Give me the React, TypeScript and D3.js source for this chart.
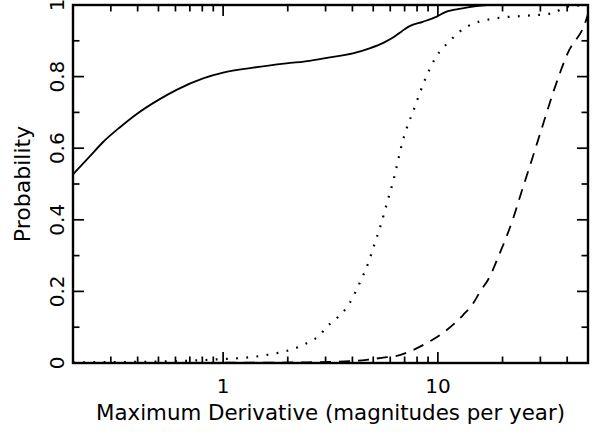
import React from "react";
import * as d3 from "d3";

const solidX = [0.2, 0.24, 0.277, 0.33, 0.395, 0.5, 0.607, 0.807, 1.0, 1.38, 1.97, 2.53, 3.14, 4.02, 4.81, 5.6, 6.18, 6.8, 7.39, 8.5, 9.83, 10.9, 12.8, 15.1, 17, 50];
const solidY = [0.527, 0.578, 0.618, 0.658, 0.695, 0.735, 0.763, 0.795, 0.811, 0.825, 0.837, 0.844, 0.854, 0.865, 0.879, 0.895, 0.909, 0.927, 0.941, 0.953, 0.967, 0.981, 0.99, 0.997, 1.0, 1.0];

const dottedX = [0.2, 0.5, 1.0, 1.28, 1.65, 2.04, 2.27, 2.53, 2.82, 3.03, 3.31, 3.88, 4.32, 4.73, 5.08, 5.45, 5.82, 6.18, 6.88, 7.79, 8.83, 9.83, 11.3, 13.6, 18.7, 25.8, 34.3, 39.6, 50];
const dottedY = [0.002, 0.004, 0.011, 0.015, 0.024, 0.036, 0.046, 0.06, 0.078, 0.101, 0.12, 0.167, 0.223, 0.278, 0.334, 0.39, 0.451, 0.506, 0.623, 0.714, 0.8, 0.856, 0.898, 0.939, 0.963, 0.97, 0.977, 0.995, 1.0];

const dashedX = [0.2, 1.5, 2.5, 3.2, 3.88, 4.65, 5.55, 6.64, 7.65, 8.83, 10.5, 13.1, 14.6, 15.9, 17.1, 19.4, 22.3, 24.4, 26.7, 30.3, 34.3, 40.2, 49, 50];
const dashedY = [0, 0.001, 0.002, 0.003, 0.005, 0.009, 0.015, 0.022, 0.036, 0.055, 0.083, 0.134, 0.167, 0.204, 0.232, 0.306, 0.4, 0.474, 0.547, 0.651, 0.753, 0.865, 0.958, 0.975];

const xMajorTicks = [1, 10];
const xMinorTicks = [0.3, 0.4, 0.5, 0.6, 0.7, 0.8, 0.9, 2, 3, 4, 5, 6, 7, 8, 9, 20, 30, 40];
const xTickLabels = ["1", "10"];
const yMajorTicks = [0, 0.2, 0.4, 0.6, 0.8, 1];
const yMinorTicks = [0.1, 0.3, 0.5, 0.7, 0.9];
const yTickLabels = ["0", "0.2", "0.4", "0.6", "0.8", "1"];

const xTitle = "Maximum Derivative (magnitudes per year)";
const yTitle = "Probability";

const W = 597;
const H = 432;
const L = 73, R = 588, T = 5, B = 363;

export default function App() {
  const x = d3.scaleLog().domain([0.2, 50]).range([L, R]);
  const y = d3.scaleLinear().domain([0, 1]).range([B, T]);

  const mk = (xs: number[], ys: number[]) =>
    d3
      .line<number>()
      .x((_, i) => x(xs[i]))
      .y((_, i) => y(ys[i]))
      .curve(d3.curveMonotoneX)(xs.map((_, i) => i)) || "";

  const font = "'DejaVu Sans', Verdana, sans-serif";
  const majLen = 11, minLen = 6.5;

  return (
    <svg
      width={W}
      height={H}
      style={{ position: "absolute", left: 0, top: 0, background: "#fff" }}
      fontFamily={font}
    >
      <rect x={0} y={0} width={W} height={H} fill="#fff" />
      <defs>
        <clipPath id="plotclip">
          <rect x={L} y={T} width={R - L} height={B - T} />
        </clipPath>
      </defs>
      <g clipPath="url(#plotclip)" fill="none" stroke="#000">
        <path d={mk(solidX, solidY)} strokeWidth={1.8} />
        <path d={mk(dottedX, dottedY)} strokeWidth={2.2} strokeDasharray="1.8,8.4" strokeLinecap="butt" />
        <path d={mk(dashedX, dashedY)} strokeWidth={1.8} strokeDasharray="11,8" />
      </g>
      <g stroke="#000" strokeWidth={1.7}>
        {xMajorTicks.map((t) => (
          <g key={"xM" + t}>
            <line x1={x(t)} x2={x(t)} y1={B} y2={B - majLen} />
            <line x1={x(t)} x2={x(t)} y1={T} y2={T + majLen} />
          </g>
        ))}
        {xMinorTicks.map((t) => (
          <g key={"xm" + t}>
            <line x1={x(t)} x2={x(t)} y1={B} y2={B - minLen} />
            <line x1={x(t)} x2={x(t)} y1={T} y2={T + minLen} />
          </g>
        ))}
        {yMajorTicks.map((t) => (
          <g key={"yM" + t}>
            <line x1={L} x2={L + majLen} y1={y(t)} y2={y(t)} />
            <line x1={R} x2={R - majLen} y1={y(t)} y2={y(t)} />
          </g>
        ))}
        {yMinorTicks.map((t) => (
          <g key={"ym" + t}>
            <line x1={L} x2={L + minLen} y1={y(t)} y2={y(t)} />
            <line x1={R} x2={R - minLen} y1={y(t)} y2={y(t)} />
          </g>
        ))}
      </g>
      <rect x={L} y={T} width={R - L} height={B - T} fill="none" stroke="#000" strokeWidth={2.4} />
      {xMajorTicks.map((t, i) => (
        <text key={"xl" + t} x={x(t)} y={393} fontSize={20} textAnchor="middle" fill="#000">
          {xTickLabels[i]}
        </text>
      ))}
      {yMajorTicks.map((t, i) => (
        <text
          key={"yl" + t}
          transform={`translate(${64},${y(t)}) rotate(-90)`}
          fontSize={20}
          textAnchor="middle"
          fill="#000"
        >
          {yTickLabels[i]}
        </text>
      ))}
      <text
        x={(L + R) / 2}
        y={420}
        fontSize={22}
        textAnchor="middle"
        fill="#000"
        textLength={469}
        lengthAdjust="spacingAndGlyphs"
      >
        {xTitle}
      </text>
      <text
        transform={`translate(${30},${(T + B) / 2}) rotate(-90)`}
        fontSize={22}
        textAnchor="middle"
        fill="#000"
      >
        {yTitle}
      </text>
    </svg>
  );
}
